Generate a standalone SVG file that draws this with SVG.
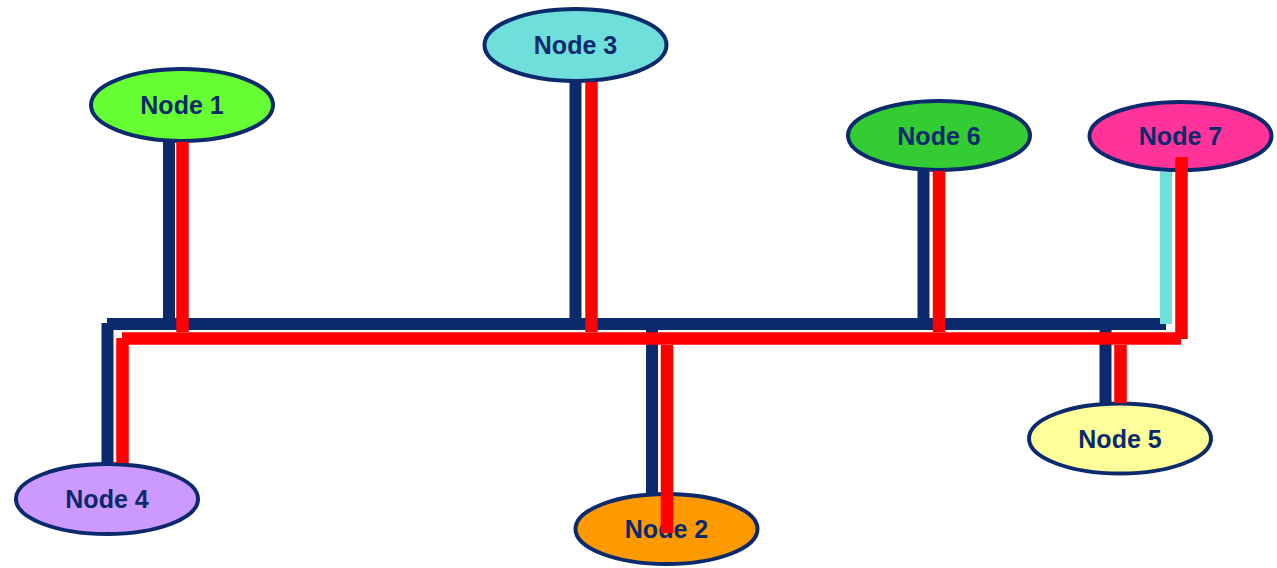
<svg xmlns="http://www.w3.org/2000/svg" width="1277" height="568" viewBox="0 0 1277 568">
<style>
.node ellipse{stroke:#0b2a6d;stroke-width:4}
.node text{font-family:"Liberation Sans",Arial,sans-serif;font-weight:bold;font-size:25px;fill:#0b2a6d;text-anchor:middle}
.b{stroke:#0b2a6d;stroke-width:12;fill:none}
.r{stroke:#ff0000;stroke-width:12.5;fill:none}
.c{stroke:#6fdfdc;stroke-width:12;fill:none}
</style>
<rect width="1277" height="568" fill="#ffffff"/>
<g id="connectors-under">
<line class="b" x1="107" y1="324" x2="1166" y2="324"/>
<line class="b" x1="107.5" y1="323" x2="107.5" y2="463"/>
<line class="b" x1="169" y1="142" x2="169" y2="318"/>
<line class="b" x1="575.5" y1="82" x2="575.5" y2="318"/>
<line class="b" x1="923.5" y1="171" x2="923.5" y2="318"/>
<line class="b" x1="652" y1="329" x2="652" y2="504"/>
<line class="b" x1="1105.5" y1="328" x2="1105.5" y2="403"/>
<line class="c" x1="1166" y1="172" x2="1166" y2="324"/>
</g>
<g id="node1" class="node"><ellipse cx="182" cy="105" rx="91" ry="36" fill="#66ff33"/><text x="182" y="114">Node 1</text></g>
<g id="node3" class="node"><ellipse cx="575.5" cy="45" rx="91" ry="36" fill="#6fdfdc"/><text x="575.5" y="54">Node 3</text></g>
<g id="node6" class="node"><ellipse cx="939" cy="135.5" rx="91" ry="34.5" fill="#33cc33"/><text x="939" y="145">Node 6</text></g>
<g id="node7" class="node"><ellipse cx="1180.5" cy="136" rx="91" ry="34" fill="#ff3399"/><text x="1180.5" y="145">Node 7</text></g>
<g id="node5" class="node"><ellipse cx="1120" cy="438.5" rx="91" ry="35" fill="#ffff99"/><text x="1120" y="448">Node 5</text></g>
<g id="node4" class="node"><ellipse cx="107" cy="499" rx="91" ry="35" fill="#cc99ff"/><text x="107" y="508">Node 4</text></g>
<g id="node2" class="node"><ellipse cx="666.5" cy="529" rx="91" ry="35" fill="#ff9900"/><text x="666.5" y="538">Node 2</text></g>
<g id="connectors">
<line class="r" x1="122" y1="338.5" x2="1181" y2="338.5"/>
<line class="r" x1="122.5" y1="338" x2="122.5" y2="463"/>
<line class="r" x1="182.5" y1="142" x2="182.5" y2="332"/>
<line class="r" x1="591.5" y1="82" x2="591.5" y2="332"/>
<line class="r" x1="939" y1="171" x2="939" y2="332"/>
<line class="r" x1="667" y1="345" x2="667" y2="533"/>
<line class="r" x1="1120.5" y1="345" x2="1120.5" y2="403"/>
<line class="r" x1="1181.5" y1="157" x2="1181.5" y2="339"/>
</g>
</svg>
